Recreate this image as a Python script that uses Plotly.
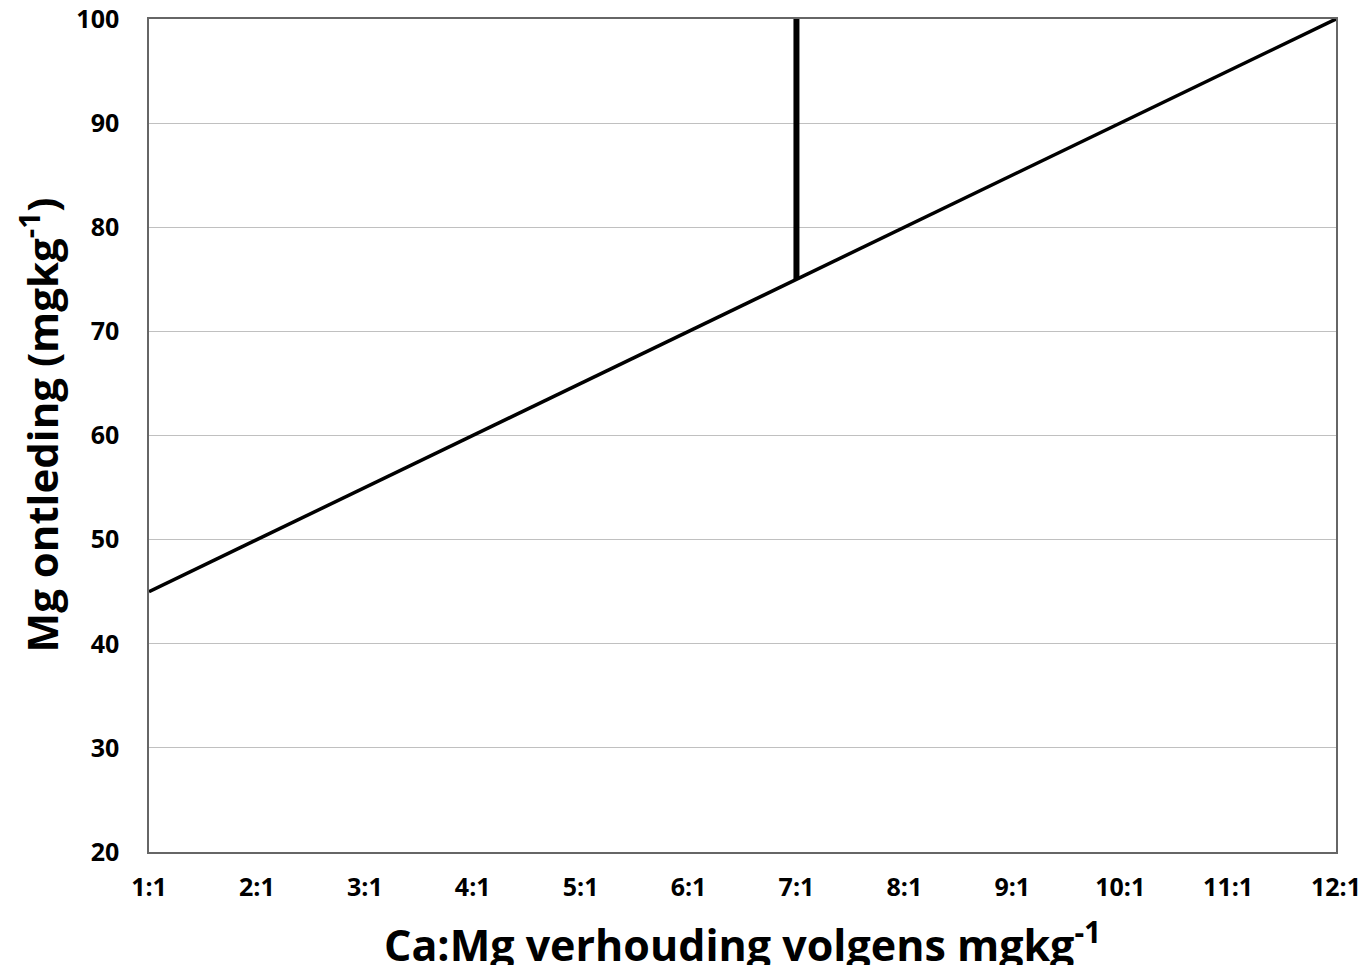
import plotly.graph_objects as go

# Data
x_positions = [1, 2, 3, 4, 5, 6, 7, 8, 9, 10, 11, 12]
x_labels = ["1:1", "2:1", "3:1", "4:1", "5:1", "6:1", "7:1", "8:1", "9:1", "10:1", "11:1", "12:1"]
mg_values = [45, 50, 55, 60, 65, 70, 75, 80, 85, 90, 95, 100]
marker_x = [7, 7]
marker_y = [75, 100]
y_ticks = [20, 30, 40, 50, 60, 70, 80, 90, 100]

FONT = "Open Sans"

fig = go.Figure()
fig.add_trace(go.Scatter(x=x_positions, y=mg_values, mode="lines",
                         line=dict(color="black", width=3.5), showlegend=False,
                         hoverinfo="skip"))
fig.add_trace(go.Scatter(x=marker_x, y=marker_y, mode="lines",
                         line=dict(color="black", width=6), showlegend=False,
                         hoverinfo="skip"))

fig.update_layout(
    width=1370, height=965,
    margin=dict(l=141, r=42, t=11, b=121, autoexpand=False),
    plot_bgcolor="white", paper_bgcolor="white",
    font=dict(family=FONT, color="black"),
)
fig.update_xaxes(
    range=[1, 12], tickvals=x_positions, ticktext=x_labels,
    showgrid=False, zeroline=False, automargin=False,
    showline=True, linecolor="#666666", linewidth=1.5, mirror=True,
    ticks="", ticklabelstandoff=12, ticklabeloverflow="allow",
    tickfont=dict(family=FONT, size=25, color="black", weight="bold"),
)
fig.update_yaxes(
    range=[20, 100], tickvals=y_ticks,
    showgrid=True, gridcolor="#c0c0c0", gridwidth=1, zeroline=False, automargin=False,
    showline=True, linecolor="#666666", linewidth=1.5, mirror=True,
    ticks="", ticklabelstandoff=23, ticklabeloverflow="allow",
    tickfont=dict(family=FONT, size=25, color="black", weight="bold"),
)
fig.add_annotation(
    text="<b>Ca:Mg verhouding volgens mgkg<sup>-1</sup></b>",
    xref="paper", yref="paper", x=0.5, y=-0.109, xanchor="center", yanchor="middle",
    showarrow=False, font=dict(family=FONT, size=43, color="black"),
)
fig.add_annotation(
    text="<b>Mg ontleding (mgkg<sup>-1</sup>)</b>",
    xref="paper", yref="paper", x=-0.092, y=0.513, xanchor="center", yanchor="middle",
    textangle=-90, showarrow=False, font=dict(family=FONT, size=42, color="black"),
)

fig.write_html("out.html")
